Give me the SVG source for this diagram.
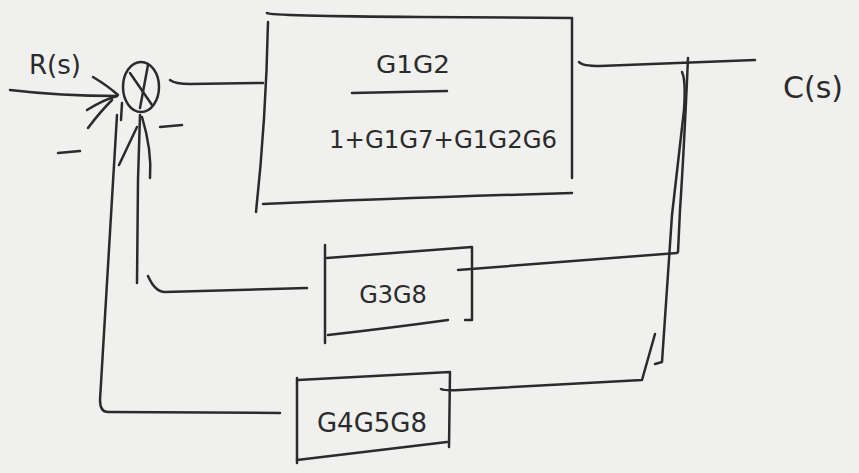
<svg xmlns="http://www.w3.org/2000/svg" width="859" height="473" viewBox="0 0 859 473">
  <style>
    .ink { fill: none; stroke: #2b2b2b; stroke-width: 2.5; stroke-linecap: round; stroke-linejoin: round; }
    .lbl { font-family: "DejaVu Sans", "Liberation Sans", sans-serif; fill: #2b2b2b; }
  </style>
  <rect width="859" height="473" fill="#f0f0ef"/>

  <!-- signal labels -->
  <g id="input-label">
    <text class="lbl" x="55" y="74" font-size="26" text-anchor="middle">R(s)</text>
  </g>
  <g id="output-label">
    <text class="lbl" x="813" y="98" font-size="30" text-anchor="middle">C(s)</text>
  </g>

  <!-- summing junction -->
  <g id="sum">
    <ellipse class="ink" cx="141" cy="87" rx="18" ry="25"/>
    <path class="ink" d="M130,73 L152,105"/>
    <path class="ink" d="M148,65 L140,108"/>
    <path class="ink" d="M160,127 L182,125"/>
    <path class="ink" d="M58,153 L80,151"/>
  </g>

  <!-- forward block -->
  <g id="forward">
    <path class="ink" d="M267,13 Q270,16 420,17 L572,18 L572,178"/>
    <path class="ink" d="M268,22 Q266,120 256,212"/>
    <path class="ink" d="M263,204 Q400,198 572,193"/>
    <text class="lbl" x="413" y="73" font-size="24" text-anchor="middle" textLength="74" lengthAdjust="spacingAndGlyphs">G1G2</text>
    <path class="ink" d="M352,93 L447,91"/>
    <text class="lbl" x="443" y="148" font-size="25" text-anchor="middle" textLength="228" lengthAdjust="spacingAndGlyphs">1+G1G7+G1G2G6</text>
  </g>

  <!-- feedback block G3G8 -->
  <g id="fb1">
    <path class="ink" d="M325,245 L325,343"/>
    <path class="ink" d="M327,258 L472,247 L472,320 L465,320"/>
    <path class="ink" d="M328,335 Q390,328 448,320"/>
    <text class="lbl" x="393" y="303" font-size="24" text-anchor="middle">G3G8</text>
  </g>

  <!-- feedback block G4G5G8 -->
  <g id="fb2">
    <path class="ink" d="M297,378 L297,463"/>
    <path class="ink" d="M298,380 L450,372 L449,447"/>
    <path class="ink" d="M297,460 Q380,450 447,442"/>
    <text class="lbl" x="372" y="432" font-size="26" text-anchor="middle">G4G5G8</text>
  </g>

  <!-- connectors -->
  <g id="connectors">
    <!-- input arrow -->
    <path class="ink" d="M10,90 Q60,96 117,96"/>
    <path class="ink" d="M93,77 Q108,86 118,95"/>
    <path class="ink" d="M87,110 Q103,100 117,96"/>
    <!-- junction to forward block -->
    <path class="ink" d="M170,80 Q175,84 190,84 L263,83"/>
    <!-- forward output to C(s) -->
    <path class="ink" d="M579,62 Q582,66 600,66 L755,60"/>
    <!-- pickoff verticals -->
    <path class="ink" d="M688,58 Q684,150 680,210 L678,252"/>
    <path class="ink" d="M682,72 Q686,80 684,110 L672,215 L662,362 L655,364"/>
    <!-- G3G8 output to pickoff -->
    <path class="ink" d="M458,270 L677,253"/>
    <!-- G4G5G8 output to pickoff -->
    <path class="ink" d="M441,389 Q445,391 460,390 L642,380 L655,334"/>
    <!-- G3G8 feedback path -->
    <path class="ink" d="M307,288 L165,292 Q155,292 148,276"/>
    <path class="ink" d="M137,283 L138,180 L140,115"/>
    <path class="ink" d="M142,117 Q152,150 150,178"/>
    <!-- G4G5G8 feedback path -->
    <path class="ink" d="M280,413 L108,412 Q100,412 100,400 L117,115"/>
    <path class="ink" d="M88,128 Q100,112 112,100"/>
    <path class="ink" d="M122,103 L121,120 M137,127 L119,165"/>
  </g>
</svg>
